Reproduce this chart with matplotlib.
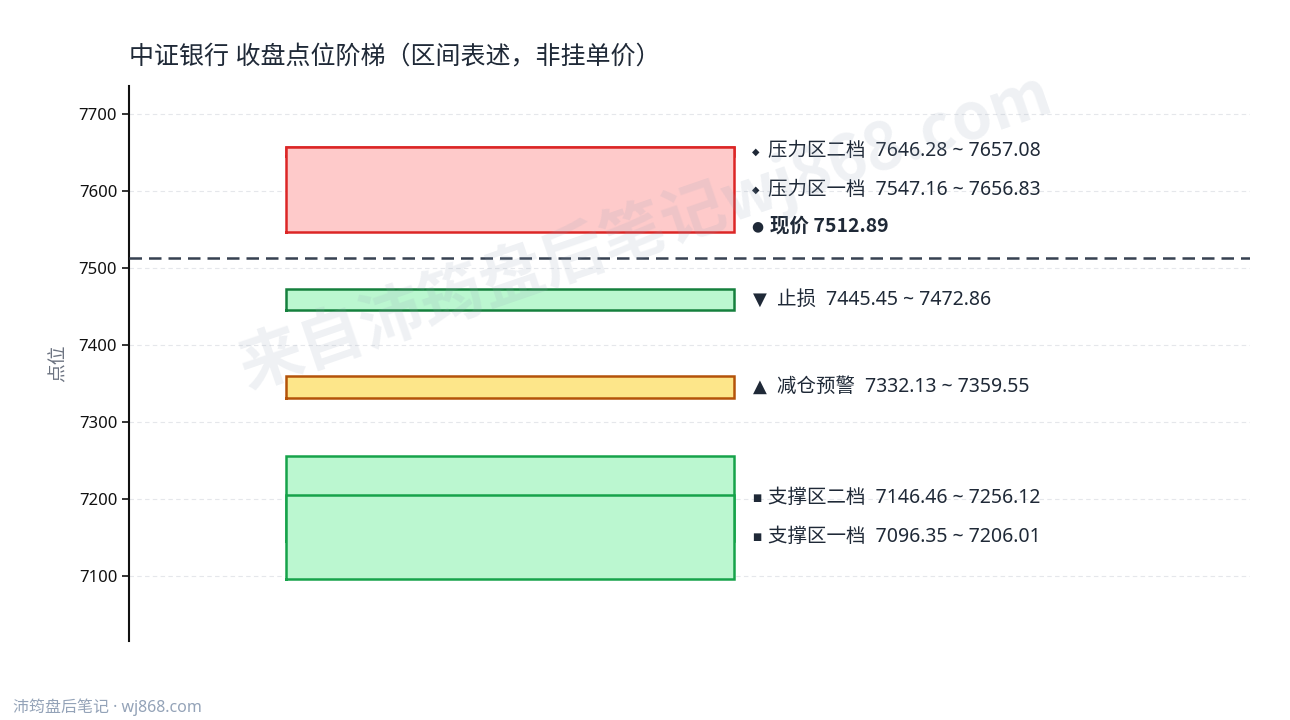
import numpy as np
import matplotlib
matplotlib.use("Agg")
import matplotlib.pyplot as plt

FAM = ['Noto Sans', 'Noto Sans CJK SC', 'DejaVu Sans']
CJK = ['Noto Sans CJK SC', 'DejaVu Sans']
plt.rcParams['font.family'] = FAM
plt.rcParams['axes.unicode_minus'] = False

# 数据
title = "中证银行 收盘点位阶梯（区间表述，非挂单价）"
price = 7512.89
zone_names = ["压力区二档", "压力区一档", "止损", "减仓预警", "支撑区二档", "支撑区一档"]
zone_low = [7646.28, 7547.16, 7445.45, 7332.13, 7146.46, 7096.35]
zone_high = [7657.08, 7656.83, 7472.86, 7359.55, 7256.12, 7206.01]
zone_mark = ["◆", "◆", "▼", "▲", "■", "■"]
zone_fill = ["#fecaca", "#fecaca", "#bbf7d0", "#fde68a", "#bbf7d0", "#bbf7d0"]
zone_edge = ["#dc2626", "#dc2626", "#15803d", "#b45309", "#16a34a", "#16a34a"]
yticks = [7100, 7200, 7300, 7400, 7500, 7600, 7700]

TXT = "#1f2937"

fig = plt.figure(figsize=(12.9, 7.2), dpi=100)
ax = fig.add_axes([0.1, 0.11, 0.869, 0.771])

x0, x1 = 0.14, 0.54
for i in range(len(zone_names)):
    ax.fill_between([x0, x1], zone_low[i], zone_high[i], facecolor=zone_fill[i],
                    edgecolor="none", zorder=2 + i)
    ax.plot([x0, x1, x1, x0, x0],
            [zone_low[i], zone_low[i], zone_high[i], zone_high[i], zone_low[i]],
            color=zone_edge[i], lw=1.8, zorder=2 + i, solid_joinstyle="miter")
    mid = (zone_low[i] + zone_high[i]) / 2
    small = zone_mark[i] in ("◆", "■")
    ax.text(0.5555 if small else 0.5565, mid, zone_mark[i], fontsize=7 if small else 13,
            color=TXT, va="center", ha="left", family=['DejaVu Sans'], zorder=20)
    ax.text(0.570 if small else 0.578, mid,
            "%s  %.2f ~ %.2f" % (zone_names[i], zone_low[i], zone_high[i]),
            fontsize=14, color=TXT, va="center", ha="left", zorder=20)

# 现价
ax.axhline(price, color="#374151", lw=1.8, dashes=(5, 2.8), zorder=15)
ax.text(0.5555, price + 42, "●", fontsize=10, color=TXT, va="center", ha="left",
        family=['DejaVu Sans'], zorder=20)
ax.text(0.572, price + 42, "现价 %.2f" % price, fontsize=14, fontweight="bold",
        color=TXT, va="center", ha="left", family=CJK, zorder=20)

ax.set_xlim(0, 1)
ax.set_ylim(min(zone_low) - 80, max(zone_high) + 80)
ax.set_yticks(yticks)
ax.set_xticks([])
ax.tick_params(axis="y", labelsize=12, length=5, width=1.2, colors="#111111")
ax.yaxis.grid(True, color="#e5e7eb", ls=(0, (4, 3)), lw=0.8)
ax.set_axisbelow(True)
for s in ["top", "right", "bottom"]:
    ax.spines[s].set_visible(False)
ax.spines["left"].set_linewidth(1.5)
ax.spines["left"].set_color("#111111")
ax.set_ylabel("点位", fontsize=13.5, color="#6b7280", labelpad=8)

fig.text(0.1, 0.92, title, fontsize=18, color=TXT, ha="left", va="center")
fig.text(0.01, 0.018, "沛筠盘后笔记 · wj868.com", fontsize=11.5, color="#94a3b8",
         ha="left", va="center")

# 水印
fig.text(0.5, 0.68, "来自沛筠盘后笔记wj868.com", fontsize=46, fontweight="bold",
         color="#94a3b8", alpha=0.15, rotation=19, ha="center", va="center",
         family=CJK, zorder=50)

fig.savefig("out.png", dpi=100)
